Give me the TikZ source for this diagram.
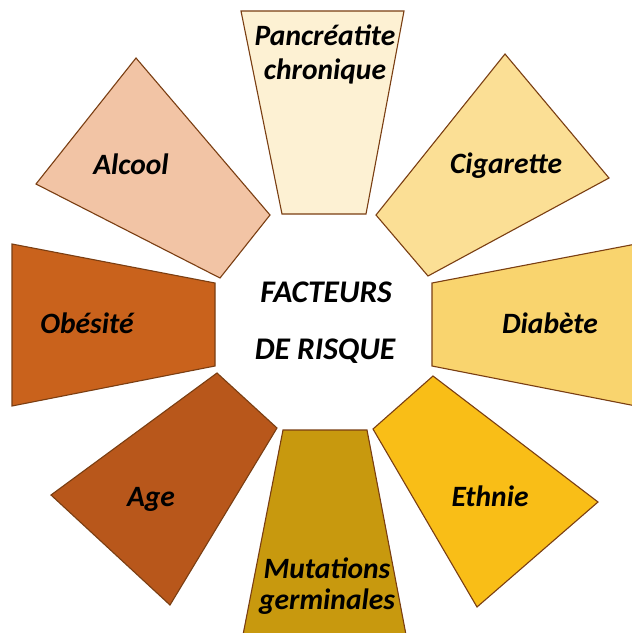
\documentclass[tikz,border=0pt]{standalone}
\usepackage{fontspec}
\setmainfont{Carlito}
\definecolor{edgebrown}{HTML}{7A3E12}
\definecolor{cPanc}{HTML}{FDF1D3}
\definecolor{cCig}{HTML}{FBDF95}
\definecolor{cDiab}{HTML}{F9D46E}
\definecolor{cEth}{HTML}{F9BE17}
\definecolor{cMut}{HTML}{C8990E}
\definecolor{cAge}{HTML}{B8571B}
\definecolor{cObe}{HTML}{C9621C}
\definecolor{cAlc}{HTML}{F2C4A5}
\tikzset{
  petal/.style={draw=edgebrown, line width=1.1pt, line join=miter},
  lbl/.style={anchor=base, inner sep=0pt, font=\fontsize{29.5}{34}\selectfont\bfseries\itshape, text=black},
  title/.style={anchor=base, inner sep=0pt, font=\fontsize{31.5}{36}\selectfont\bfseries\itshape, text=black}
}
\begin{document}
\begin{tikzpicture}[x=1pt,y=-1pt]
\useasboundingbox (0,0) rectangle (632,633);
\begin{scope}
\clip (0,0) rectangle (632,633);
\fill[white] (0,0) rectangle (632,633);
\filldraw[petal, fill=cPanc] (241,11) -- (404,11) -- (366,214) -- (282,214) -- cycle;
\filldraw[petal, fill=cCig] (376,215) -- (505,54) -- (609,178) -- (428,276) -- cycle;
\filldraw[petal, fill=cDiab] (432,283) -- (636,244) -- (636,406) -- (432,366) -- cycle;
\filldraw[petal, fill=cEth] (373,429) -- (433,376) -- (598,502) -- (477,607) -- cycle;
\filldraw[petal, fill=cMut] (283,430) -- (367,430) -- (407,640) -- (242,640) -- cycle;
\filldraw[petal, fill=cAge] (217,373) -- (277,428) -- (170,605) -- (51,495) -- cycle;
\filldraw[petal, fill=cObe] (12,244) -- (215,283) -- (215,366) -- (12,406) -- cycle;
\filldraw[petal, fill=cAlc] (136,58) -- (270,215) -- (220,278) -- (36,184) -- cycle;
\end{scope}
\node[lbl] (panc1) at (325,45) {Pancréatite};
\node[lbl] (panc2) at (325,79) {chronique};
\node[lbl] (cig) at (506,173) {Cigarette};
\node[lbl] (alc) at (131,174) {Alcool};
\node[lbl] (obe) at (87,333) {Obésité};
\node[lbl] (dia) at (550,333) {Diabète};
\node[lbl] (age) at (151,506) {Age};
\node[lbl] (eth) at (490,506) {Ethnie};
\node[lbl] (mut1) at (327,578) {Mutations};
\node[lbl] (mut2) at (327,609) {germinales};
\node[title] (t1) at (326,302) {FACTEURS};
\node[title] (t2) at (325,359) {DE RISQUE};
\end{tikzpicture}
\end{document}
